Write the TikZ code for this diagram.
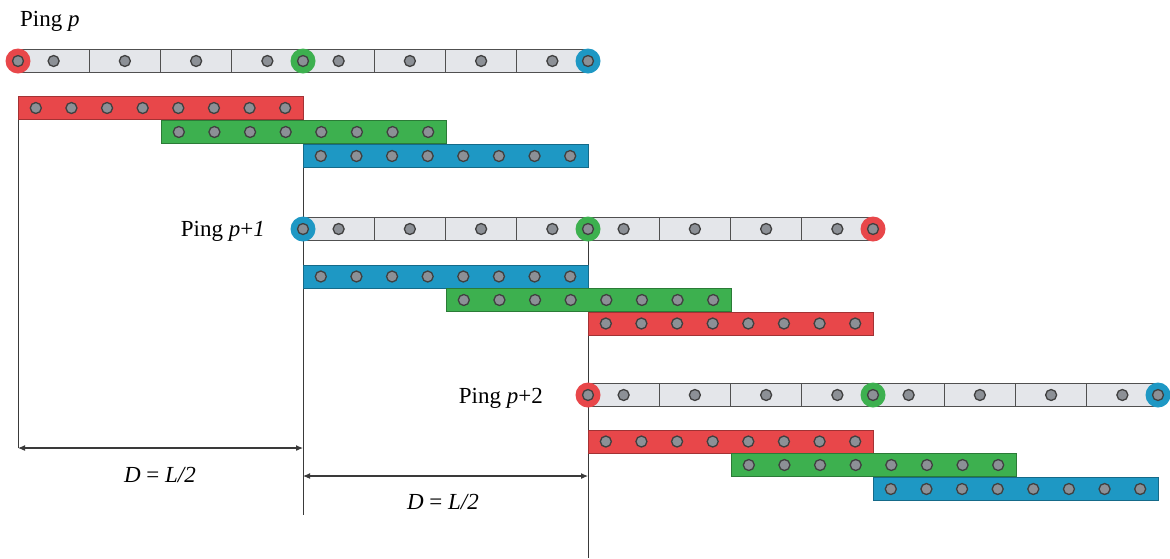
\documentclass[tikz,border=0pt]{standalone}
\usepackage{fontspec}
\setmainfont{Liberation Serif}
\usetikzlibrary{arrows.meta}
\definecolor{cred}{HTML}{E8474A}
\definecolor{cgreen}{HTML}{3DB04F}
\definecolor{cblue}{HTML}{1E98C4}
\definecolor{cbar}{HTML}{E4E6EA}
\definecolor{cedge}{HTML}{505050}
\definecolor{cdot}{HTML}{8C9096}
\definecolor{cline}{HTML}{3A3A3A}
\newcommand\pingbar[6]{% name, x0, y, left, mid, right colour
  \foreach \k in {0,...,7} {
    \node[seg] (#1s\k) at ({#2+71.25*(\k+0.5)},#3) {};
    \node[dot] (#1d\k) at (#1s\k) {};
  }
  \node[ring=#4] (#1a) at (#2,#3) {};
  \node[dot] (#1ad) at (#1a) {};
  \node[ring=#5] (#1b) at ({#2+285},#3) {};
  \node[dot] (#1bd) at (#1b) {};
  \node[ring=#6] (#1c) at ({#2+570},#3) {};
  \node[dot] (#1cd) at (#1c) {};
}
\newcommand\colbar[4]{% name, x0, y, colour
  \node[cbarbox=#4] (#1) at ({#2+142.5},#3) {};
  \foreach \k in {0,...,7} {
    \node[dot] (#1d\k) at ({#2+35.625*(\k+0.5)},#3) {};
  }
}
\begin{document}
\begin{tikzpicture}[x=1pt,y=-1pt,
  seg/.style={draw=cedge, fill=cbar, line width=0.8pt, minimum width=71.25pt,
    minimum height=23pt, inner sep=0pt, outer sep=0pt},
  dot/.style={circle, draw=black!75, fill=cdot, line width=1.3pt,
    minimum size=11pt, inner sep=0pt},
  ring/.style={circle, fill=#1, minimum size=25pt, inner sep=0pt},
  cbarbox/.style={fill=#1, draw=#1!70!black, line width=0.6pt, minimum width=285pt,
    minimum height=23pt, inner sep=0pt, outer sep=0pt},
  lbl/.style={font=\fontsize{23}{26}\selectfont, inner sep=0pt},
  vline/.style={draw=cline, line width=1pt},
  dim/.style={draw=cline, line width=1.1pt, {Latex[length=7pt,width=6pt]}-{Latex[length=7pt,width=6pt]}},
]
\useasboundingbox (0,0) rectangle (1170,558);

% guide coordinates
\coordinate (a1l) at (18,448);
\coordinate (a1r) at (303,448);
\coordinate (a2l) at (303,476);
\coordinate (a2r) at (588,476);
\coordinate (v2end) at (303,515);
\coordinate (v3end) at (588,558);
\coordinate (v1top) at (18,120);
\coordinate (v2top) at (303,168);
\coordinate (v3top) at (588,229);

% vertical lines
\draw[vline] (v1top) -- (a1l);
\draw[vline] (v2top) -- (v2end);
\draw[vline] (v3top) -- (v3end);

% Ping p
\node[lbl, anchor=base west] (lp) at (20,26) {Ping \textit{p}};
\pingbar{P}{18}{61}{cred}{cgreen}{cblue}
\colbar{Pr}{18}{108}{cred}
\colbar{Pg}{161}{132}{cgreen}
\colbar{Pb}{303}{156}{cblue}

% Ping p+1
\node[lbl, anchor=base east] (lp1) at (265,236) {Ping \textit{p}+\textit{1}};
\pingbar{Q}{303}{229}{cblue}{cgreen}{cred}
\colbar{Qb}{303}{276.5}{cblue}
\colbar{Qg}{446}{300}{cgreen}
\colbar{Qr}{588}{323.5}{cred}

% Ping p+2
\node[lbl, anchor=base east] (lp2) at (543,403) {Ping \textit{p}+2};
\pingbar{R}{588}{395}{cred}{cgreen}{cblue}
\colbar{Rr}{588}{441.5}{cred}
\colbar{Rg}{731}{465}{cgreen}
\colbar{Rb}{873}{489}{cblue}

% dimension arrows
\draw[dim] (a1l) -- (a1r);
\draw[dim] (a2l) -- (a2r);
\node[lbl, anchor=base] (d1) at (160,482) {\textit{D} = \textit{L/2}};
\node[lbl, anchor=base] (d2) at (443,509) {\textit{D} = \textit{L/2}};
\end{tikzpicture}
\end{document}
